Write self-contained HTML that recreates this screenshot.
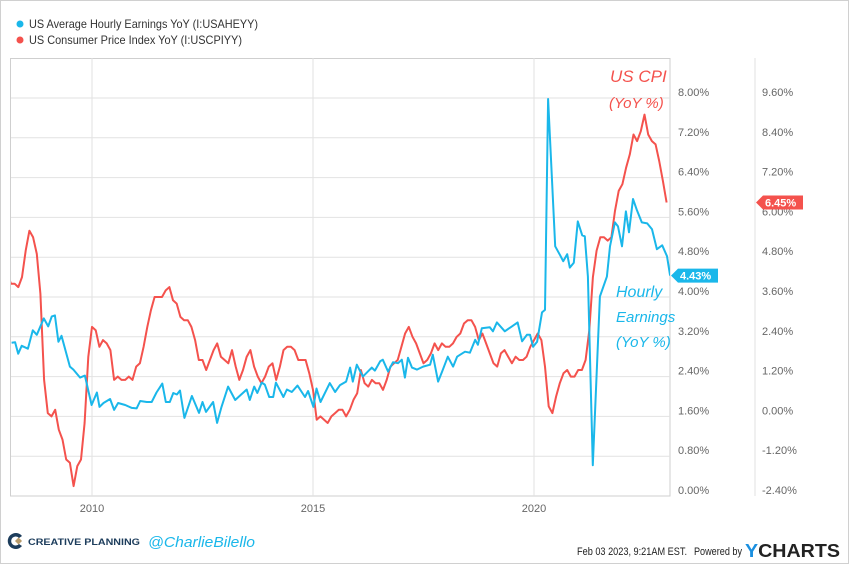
<!DOCTYPE html>
<html><head><meta charset="utf-8">
<style>
body{margin:0;background:#fff;font-family:"Liberation Sans",sans-serif;}
#wrap{position:relative;width:850px;height:565px;overflow:hidden;}
svg text{font-family:"Liberation Sans",sans-serif;}
</style></head>
<body>
<div id="wrap">
<svg id="chart" width="850" height="565">
  <rect x="0.5" y="0.5" width="848" height="563" fill="#fff" stroke="#d0d0d0"/>
  <g>
    <g>
      <circle cx="20" cy="24" r="3.5" fill="#1ab7ea"/>
      <text x="29" y="28" font-size="12" fill="#333" textLength="229" lengthAdjust="spacingAndGlyphs">US Average Hourly Earnings YoY (I:USAHEYY)</text>
    </g>
    <g>
      <circle cx="20" cy="40" r="3.5" fill="#f4524d"/>
      <text x="29" y="44" font-size="12" fill="#333" textLength="213" lengthAdjust="spacingAndGlyphs">US Consumer Price Index YoY (I:USCPIYY)</text>
    </g>
  </g>
  <g id="grid"></g>
  <g id="axes"></g>
  <defs><clipPath id="clip"><rect x="11" y="58" width="659" height="438"/></clipPath></defs>
  <g id="series" clip-path="url(#clip)"></g>
  <g id="labels">
    <text x="610" y="82" font-size="17" fill="#f4524d" font-family="'DejaVu Sans',sans-serif" font-style="italic">US CPI</text>
    <text x="609" y="108" font-size="15" fill="#f4524d" font-family="'DejaVu Sans',sans-serif" font-style="italic">(YoY %)</text>
    <text x="616" y="297" font-size="16" fill="#1ab7ea" font-family="'DejaVu Sans',sans-serif" font-style="italic">Hourly</text>
    <text x="616" y="322" font-size="15" fill="#1ab7ea" font-family="'DejaVu Sans',sans-serif" font-style="italic">Earnings</text>
    <text x="616" y="347" font-size="15" fill="#1ab7ea" font-family="'DejaVu Sans',sans-serif" font-style="italic">(YoY %)</text>
  </g>
  <g>
    <g>
      <path d="M22 536 a8 8 0 1 0 0 10 l-3 -2 a4.5 4.5 0 1 1 0 -6 z" fill="#1d3d5c"/>
      <rect x="16" y="538.5" width="5" height="5" fill="#b79a6a" transform="rotate(45 18.5 541)"/>
      <text x="28" y="545" font-size="9" font-weight="bold" fill="#1d3d5c" textLength="112" lengthAdjust="spacingAndGlyphs">CREATIVE PLANNING</text>
    </g>
    <text x="148" y="547" font-size="15" fill="#1ab7ea" font-family="'DejaVu Sans',sans-serif" font-style="italic" textLength="107" lengthAdjust="spacingAndGlyphs">@CharlieBilello</text>
    <text x="577" y="555" font-size="11" fill="#222" textLength="110" lengthAdjust="spacingAndGlyphs">Feb 03 2023, 9:21AM EST.</text>
    <text x="694" y="555" font-size="11" fill="#222" textLength="48" lengthAdjust="spacingAndGlyphs">Powered by</text>
    <text x="745" y="557" font-size="18" font-weight="bold" fill="#222" textLength="95" lengthAdjust="spacingAndGlyphs"><tspan fill="#1a8fe0">Y</tspan>CHARTS</text>
  </g>
</svg>
</div>
<script>
const leftTicks=["0.00%","0.80%","1.60%","2.40%","3.20%","4.00%","4.80%","5.60%","6.40%","7.20%","8.00%"];
const rightTicks=["-2.40%","-1.20%","0.00%","1.20%","2.40%","3.60%","4.80%","6.00%","7.20%","8.40%","9.60%"];
const yearTicks=[2010,2015,2020];
const earnT=[2008.18,2008.26,2008.33,2008.41,2008.55,2008.66,2008.75,2008.91,2009.01,2009.09,2009.16,2009.24,2009.31,2009.50,2009.58,2009.73,2009.84,2009.99,2010.11,2010.17,2010.26,2010.41,2010.50,2010.59,2010.75,2010.90,2011.01,2011.09,2011.24,2011.35,2011.46,2011.59,2011.67,2011.76,2011.84,2011.92,2011.99,2012.09,2012.26,2012.42,2012.50,2012.58,2012.74,2012.83,2012.93,2013.08,2013.24,2013.35,2013.50,2013.57,2013.67,2013.74,2013.84,2013.91,2014.01,2014.10,2014.16,2014.33,2014.41,2014.52,2014.65,2014.82,2014.89,2015.01,2015.08,2015.17,2015.38,2015.50,2015.61,2015.75,2015.84,2015.90,2015.99,2016.13,2016.33,2016.40,2016.52,2016.58,2016.70,2016.81,2016.92,2017.01,2017.08,2017.15,2017.24,2017.35,2017.49,2017.65,2017.71,2017.83,2017.92,2018.05,2018.17,2018.26,2018.33,2018.44,2018.55,2018.67,2018.73,2018.82,2019.00,2019.07,2019.16,2019.34,2019.50,2019.63,2019.73,2019.84,2019.91,2019.98,2020.07,2020.18,2020.25,2020.32,2020.48,2020.59,2020.66,2020.75,2020.81,2020.90,2020.99,2021.09,2021.15,2021.22,2021.33,2021.49,2021.65,2021.72,2021.83,2021.90,2021.99,2022.08,2022.15,2022.24,2022.33,2022.44,2022.56,2022.67,2022.78,2022.90,2023.01,2023.08];
const earnV=[3.08,3.09,2.86,3.02,2.96,3.33,3.24,3.57,3.41,3.61,3.63,3.10,3.22,2.60,2.54,2.38,2.42,1.83,2.08,1.79,1.87,1.95,1.73,1.87,1.83,1.77,1.76,1.91,1.89,1.89,2.08,2.26,1.89,1.89,2.07,2.04,2.12,1.57,2.01,1.67,1.89,1.69,1.89,1.47,1.79,2.20,1.93,2.02,2.14,1.93,2.20,2.07,2.28,2.24,1.99,1.99,2.28,1.99,2.14,2.09,2.22,1.99,2.11,1.79,2.16,1.89,2.27,2.09,2.23,2.30,2.58,2.30,2.64,2.40,2.58,2.52,2.71,2.74,2.50,2.69,2.67,2.74,2.38,2.78,2.58,2.54,2.60,2.64,2.84,2.30,2.50,2.80,2.60,2.80,2.84,2.90,2.88,3.14,3.04,3.37,3.39,3.31,3.49,3.31,3.41,3.49,3.11,3.24,3.24,3.00,3.10,3.69,3.74,7.98,5.02,4.84,4.72,4.86,4.59,4.69,5.52,5.24,5.22,4.41,0.62,4.01,4.41,5.02,5.50,5.42,5.02,5.72,5.30,5.97,5.74,5.50,5.48,5.36,4.96,5.04,4.82,4.43];
const cpiYears=[2008,2009,2010,2011,2012,2013,2014,2015,2016,2017,2018,2019,2020,2021,2022];
const cpiV=[4.3,4.0,4.0,3.9,4.2,5.0,5.6,5.4,4.9,3.7,1.1,0.1,
0.0,0.2,-0.4,-0.7,-1.3,-1.4,-2.1,-1.5,-1.3,-0.2,1.8,2.7,
2.6,2.1,2.3,2.2,2.0,1.1,1.2,1.1,1.1,1.2,1.1,1.5,
1.6,2.1,2.7,3.2,3.6,3.6,3.6,3.8,3.9,3.5,3.4,3.0,
2.9,2.9,2.7,2.3,1.7,1.7,1.4,1.7,2.0,2.2,1.8,1.7,
1.6,2.0,1.5,1.1,1.4,1.8,2.0,1.5,1.2,1.0,1.2,1.5,
1.6,1.1,1.5,2.0,2.1,2.1,2.0,1.7,1.7,1.7,1.3,0.8,
-0.1,0.0,-0.1,-0.2,0.0,0.1,0.2,0.2,0.0,0.2,0.5,0.7,
1.4,1.0,0.9,1.1,1.0,1.0,0.8,1.1,1.5,1.6,1.7,2.1,
2.5,2.7,2.4,2.2,1.9,1.6,1.7,1.9,2.2,2.0,2.2,2.1,
2.1,2.2,2.4,2.5,2.8,2.9,2.9,2.7,2.3,2.5,2.2,1.9,
1.6,1.5,1.9,2.0,1.8,1.6,1.8,1.7,1.7,1.8,2.1,2.3,
2.5,2.3,1.5,0.3,0.1,0.6,1.0,1.3,1.4,1.2,1.2,1.4,
1.4,1.7,2.6,4.2,5.0,5.4,5.4,5.3,5.4,6.2,6.8,7.0,
7.5,7.9,8.5,8.3,8.6,9.1,8.5,8.3,8.2,7.7,7.1,6.45];

const NS='http://www.w3.org/2000/svg';
const X=t=>92+(t-2010)*44.2;
const YL=v=>496-v*49.75;
const YR=v=>496-(v+2.4)/1.2*39.8;
function mk(tag,attrs,parent){const e=document.createElementNS(NS,tag);for(const k in attrs)e.setAttribute(k,attrs[k]);parent.appendChild(e);return e;}
const grid=document.getElementById('grid'),axes=document.getElementById('axes'),series=document.getElementById('series');
mk('rect',{x:10.5,y:58.5,width:659.5,height:437.5,fill:'none',stroke:'#cfcfcf'},grid);
leftTicks.forEach((s,i)=>{
  const y=496-i*39.8;
  if(i>0){const l=mk('line',{x1:11,x2:670,y1:y,y2:y,stroke:'#e2e2e2'},grid);
  
  }
  const t=mk('text',{x:678,y:y-2,'font-size':11,fill:'#666'},axes);t.textContent=s;
  
  
  const t2=mk('text',{x:762,y:y-2,'font-size':11,fill:'#666'},axes);t2.textContent=rightTicks[i];
  
  
});
mk('line',{x1:755,x2:755,y1:58,y2:496,stroke:'#e2e2e2'},grid);
yearTicks.forEach(yr=>{
  const x=X(yr);
  const l=mk('line',{x1:x,x2:x,y1:58,y2:496,stroke:'#e2e2e2'},grid);
  
  
  const t=mk('text',{x:x,y:512,'font-size':11,fill:'#666','text-anchor':'middle'},axes);t.textContent=yr;
  
  
});
let d='';
cpiYears.forEach((yr,yi)=>{for(let m=0;m<12;m++){const v=cpiV[yi*12+m];d+=(d?'L':'M')+X(yr+(m+1)/12).toFixed(1)+' '+YR(v).toFixed(1);}});
const cp=mk('path',{d:d,fill:'none',stroke:'#f4524d','stroke-width':2,'stroke-linejoin':'round'},series);


let d2='';
earnT.forEach((t,i)=>{d2+=(i?'L':'M')+X(t).toFixed(1)+' '+YL(earnV[i]).toFixed(1);});
const ep=mk('path',{d:d2,fill:'none',stroke:'#1ab7ea','stroke-width':2,'stroke-linejoin':'round'},series);


const lastE=earnV[earnV.length-1],lastC=cpiV[cpiV.length-1];
const gb=mk('g',{},axes);


const yb=YL(lastE);
mk('path',{d:`M671 ${yb} L678 ${yb-7} L718 ${yb-7} L718 ${yb+7} L678 ${yb+7} Z`,fill:'#1ab7ea'},gb);
const tb=mk('text',{x:680,y:yb+4,'font-size':11,'font-weight':'bold',fill:'#fff'},gb);tb.textContent=lastE.toFixed(2)+'%';
const gr=mk('g',{},axes);


const yr2=YR(lastC);
mk('path',{d:`M756 ${yr2} L763 ${yr2-7} L803 ${yr2-7} L803 ${yr2+7} L763 ${yr2+7} Z`,fill:'#f4524d'},gr);
const tr=mk('text',{x:765,y:yr2+4,'font-size':11,'font-weight':'bold',fill:'#fff'},gr);tr.textContent=lastC.toFixed(2)+'%';
</script>
</body></html>
